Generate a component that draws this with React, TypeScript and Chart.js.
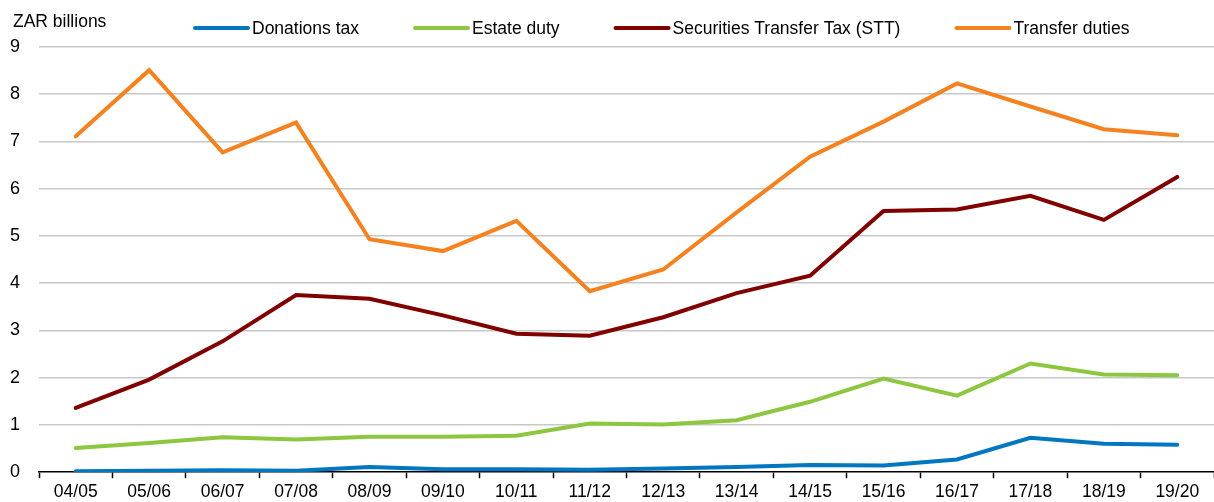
import React, { useEffect, useRef } from "react";
import { Chart, registerables } from "chart.js";

Chart.register(...registerables);

const categories = ["04/05","05/06","06/07","07/08","08/09","09/10","10/11","11/12","12/13","13/14","14/15","15/16","16/17","17/18","18/19","19/20"];
const donationsTax = [0.02,0.03,0.04,0.03,0.11,0.06,0.06,0.05,0.08,0.11,0.15,0.14,0.27,0.73,0.60,0.58];
const estateDuty = [0.51,0.62,0.74,0.69,0.75,0.75,0.77,1.03,1.01,1.10,1.49,1.98,1.62,2.30,2.07,2.05];
const stt = [1.36,1.96,2.77,3.75,3.67,3.32,2.93,2.89,3.28,3.79,4.16,5.53,5.56,5.85,5.34,6.25];
const transferDuties = [7.11,8.51,6.77,7.40,4.93,4.68,5.32,3.83,4.29,5.50,6.68,7.42,8.23,7.74,7.26,7.13];
const seriesNames = ["Donations tax","Estate duty","Securities Transfer Tax (STT)","Transfer duties"];
const seriesColors = ["#0077C0","#8DC63F","#800000","#F58220"];
const yTicks = [0,1,2,3,4,5,6,7,8,9];
const unitLabel = "ZAR billions";

const FONT = "'Liberation Sans', Arial, sans-serif";

const legendPlugin = {
  id: "customLegend",
  afterDraw(chart: any) {
    const ctx = chart.ctx;
    ctx.save();
    ctx.font = `17.5px ${FONT}`;
    ctx.fillStyle = "#000";
    ctx.textBaseline = "middle";
    ctx.textAlign = "left";
    ctx.fillText(unitLabel, 13, 22);
    let x = 193;
    const y = 28;
    chart.data.datasets.forEach((ds: any) => {
      ctx.strokeStyle = ds.borderColor;
      ctx.lineWidth = 4;
      ctx.lineCap = "round";
      ctx.beginPath();
      ctx.moveTo(x + 2, y);
      ctx.lineTo(x + 55, y);
      ctx.stroke();
      ctx.fillStyle = "#000";
      ctx.fillText(ds.label, x + 59, y + 1);
      const w = ctx.measureText(ds.label).width;
      x += 59 + w + 54;
    });
    ctx.restore();
  },
};

export default function App() {
  const ref = useRef<HTMLCanvasElement>(null);
  useEffect(() => {
    const values = [donationsTax, estateDuty, stt, transferDuties];
    const chart = new Chart(ref.current!, {
      type: "line",
      data: {
        labels: categories,
        datasets: seriesNames.map((name, i) => ({
          label: name,
          data: values[i],
          borderColor: seriesColors[i],
          backgroundColor: seriesColors[i],
          borderWidth: 4,
          pointRadius: 0,
          tension: 0,
          borderCapStyle: "round" as const,
          borderJoinStyle: "miter" as const,
        })),
      },
      options: {
        animation: false,
        responsive: true,
        maintainAspectRatio: false,
        layout: { padding: { top: 47, right: 0, left: 0, bottom: 0 } },
        plugins: {
          legend: { display: false },
          tooltip: { enabled: false },
        },
        scales: {
          x: {
            offset: true,
            grid: {
              offset: true,
              drawOnChartArea: false,
              drawTicks: true,
              tickLength: 6,
              tickWidth: 1.5,
              tickColor: "#000",
            },
            border: { display: true, color: "#000", width: 1.5 },
            ticks: {
              color: "#000",
              font: { family: FONT, size: 17.5 },
              maxRotation: 0,
              autoSkip: false,
              padding: 3,
            },
            afterFit(scale: any) {
              scale.height = 29;
            },
          },
          y: {
            min: 0,
            max: 9,
            afterBuildTicks(scale: any) {
              scale.ticks = yTicks.map((v) => ({ value: v }));
            },
            grid: {
              color: (c: any) => (c.tick && c.tick.value === 0 ? "rgba(0,0,0,0)" : "#C8C8C8"),
              lineWidth: 1.5,
              drawTicks: false,
            },
            border: { display: false },
            ticks: {
              color: "#000",
              font: { family: FONT, size: 18 },
              padding: 19,
            },
            afterFit(scale: any) {
              scale.width = 39;
            },
          },
        },
      },
      plugins: [legendPlugin],
    });
    return () => chart.destroy();
  }, []);
  return (
    <div style={{ position: "fixed", left: 0, top: 0, width: 1214, height: 502, background: "#fff" }}>
      <canvas ref={ref} />
    </div>
  );
}
